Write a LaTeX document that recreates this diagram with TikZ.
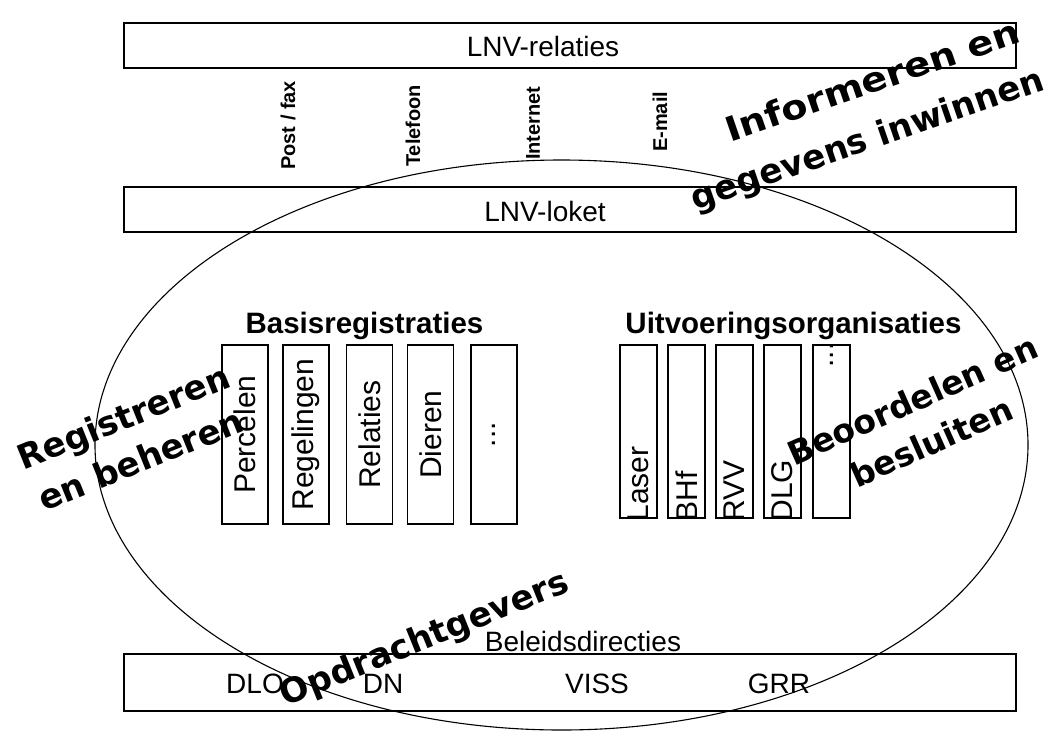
\documentclass[tikz,border=0pt]{standalone}
\usepackage{fontspec}
\setmainfont{Liberation Sans}
\newfontfamily\heavyfont{DejaVu Sans}
\begin{document}
\begin{tikzpicture}[x=1pt,y=-1pt,
  bar/.style={draw, line width=1.8pt, minimum width=892pt, inner sep=0pt},
  reg/.style={draw, line width=1.4pt, minimum width=46pt, minimum height=179pt, inner sep=0pt},
  org/.style={draw, line width=1.4pt, minimum width=37pt, minimum height=173pt, inner sep=0pt},
  boxtext/.style={font=\fontsize{28}{32}\selectfont, inner sep=0pt},
  chan/.style={font=\bfseries\fontsize{20}{22}\selectfont, rotate=90, anchor=west, inner sep=0pt},
  title/.style={font=\bfseries\fontsize{29.5}{34}\selectfont, anchor=base, inner sep=0pt},
  vlab/.style={font=\fontsize{30}{34}\selectfont, rotate=90, inner sep=0pt},
  big/.style={font=\heavyfont\bfseries\fontsize{34}{46}\selectfont, align=center, inner sep=0pt}
]
\useasboundingbox (0,0) rectangle (1048,734);

% horizontal bars
\node[bar, minimum height=45pt] (rel) at (570,45.5) {};
\node[boxtext] (reltxt) at (543,46) {LNV-relaties};
\node[bar, minimum height=45pt] (loket) at (570,209.5) {};
\node[boxtext] (lokettxt) at (545,211) {LNV-loket};
\node[bar, minimum height=57pt] (beleid) at (570,682.5) {};
\node[boxtext, anchor=base] (beleidtxt) at (583,651) {Beleidsdirecties};
\node[boxtext] (dlo) at (255,684) {DLO};
\node[boxtext] (dn) at (383,684) {DN};
\node[boxtext] (viss) at (597,684) {VISS};
\node[boxtext] (grr) at (779,684) {GRR};

% channels
\node[chan] (post) at (288,170) {Post / fax};
\node[chan] (tel) at (413,167) {Telefoon};
\node[chan] (inet) at (533,160) {Internet};
\node[chan] (mail) at (660,152) {E-mail};

% Basisregistraties
\node[title] (basis) at (364.5,333) {Basisregistraties};
\node[reg] (perc) at (245,434.5) {};
\node[reg] (regl) at (306,434.5) {};
\node[reg] (rela) at (369.5,434.5) {};
\node[reg] (dier) at (430.5,434.5) {};
\node[reg] (regx) at (494,434.5) {};
\node[vlab] (perct) at (perc) {Percelen};
\node[vlab] (reglt) at (regl) {Regelingen};
\node[vlab] (relat) at (rela) {Relaties};
\node[vlab] (diert) at (dier) {Dieren};
\node[vlab] (regxt) at (regx) {...};

% Uitvoeringsorganisaties
\node[title] (uitv) at (793.5,333) {Uitvoeringsorganisaties};
\node[org] (laser) at (638.5,431.5) {};
\node[org] (bhf) at (686.5,431.5) {};
\node[org] (rvv) at (734.5,431.5) {};
\node[org] (dlg) at (782.5,431.5) {};
\node[org] (orgx) at (831.5,431.5) {};
\node[vlab, anchor=west] (lasert) at ([yshift=-3pt]laser.south) {Laser};
\node[vlab, anchor=west] (bhft) at ([yshift=-3pt]bhf.south) {BHf};
\node[vlab, anchor=west] (rvvt) at ([yshift=-3pt]rvv.south) {RVV};
\node[vlab, anchor=west] (dlgt) at ([yshift=-3pt]dlg.south) {DLG};
\node[vlab, anchor=east] (orgxt) at ([yshift=2pt]orgx.north) {...};

% ellipse
\draw[line width=1.1pt] (561.5,445) ellipse [x radius=466.5, y radius=285];

% overlay labels
\node[big, rotate=19, xscale=1.13] (info1) at (872,80) {Informeren en};
\node[big, rotate=19] (info2) at (868,141) {gegevens inwinnen};
\node[big, rotate=22] (regb) at (132,438) {Registreren\\en beheren};
\node[big, rotate=24, font=\heavyfont\bfseries\fontsize{33}{46}\selectfont] (beoo) at (922,421) {Beoordelen en\\besluiten};
\node[big, rotate=22] (opdr) at (425,640) {Opdrachtgevers};
\end{tikzpicture}
\end{document}
